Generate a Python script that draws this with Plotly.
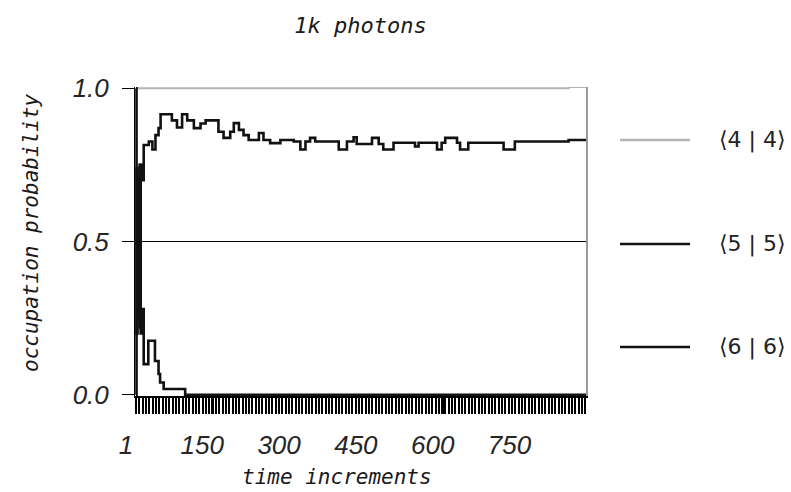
import plotly.graph_objects as go

# time axis of the simulation and its labelled ticks
tick_vals = [1, 150, 300, 450, 600, 750]
tick_text = ["1", "150", "300", "450", "600", "750"]
t_end = 880

# <5|5> occupation: step breakpoints (time, value held until next breakpoint)
t_55 = [1, 2, 4, 6, 8, 10, 12, 16, 26, 33, 39, 45, 49, 71, 81, 91, 101, 114,
        127, 137, 162, 172, 185, 192, 202, 211, 221, 241, 250, 263, 283, 309,
        322, 332, 341, 351, 397, 413, 426, 432, 462, 475, 484, 504, 546, 553,
        589, 598, 605, 628, 634, 650, 719, 741, 846, 880]
p_55 = [0.0, 0.74, 0.30, 0.70, 0.22, 0.75, 0.70, 0.815, 0.826, 0.80, 0.847,
        0.87, 0.915, 0.895, 0.872, 0.915, 0.895, 0.87, 0.885, 0.895, 0.858,
        0.838, 0.858, 0.886, 0.864, 0.847, 0.831, 0.854, 0.831, 0.821, 0.831,
        0.826, 0.80, 0.826, 0.838, 0.826, 0.80, 0.826, 0.84, 0.818, 0.838,
        0.818, 0.80, 0.822, 0.81, 0.822, 0.80, 0.822, 0.838, 0.822, 0.80,
        0.822, 0.80, 0.826, 0.831, 0.831]

# <6|6> occupation
t_66 = [1, 2, 4, 6, 8, 10, 12, 16, 25, 38, 45, 48, 55, 97, 880]
p_66 = [1.0, 0.20, 0.70, 0.25, 0.75, 0.20, 0.28, 0.10, 0.176, 0.11, 0.068,
        0.04, 0.019, 0.0, 0.0]

# <4|4> occupation (grey trace along the top)
t_44 = [1, 846, 880]
p_44 = [1.0, 1.004, 1.004]

y_ticks = [0.0, 0.5, 1.0]
y_text = ["0.0", "0.5", "1.0"]

legend_names = ["\u27e84 | 4\u27e9", "\u27e85 | 5\u27e9", "\u27e86 | 6\u27e9"]
legend_colors = ["#b4b4b4", "#111111", "#111111"]

fig = go.Figure()

fig.add_trace(go.Scatter(x=t_44, y=p_44, mode="lines", line_shape="hv",
                         line=dict(color=legend_colors[0], width=2.2),
                         name=legend_names[0], showlegend=False, cliponaxis=False))
fig.add_trace(go.Scatter(x=t_55, y=p_55, mode="lines", line_shape="hv",
                         line=dict(color=legend_colors[1], width=2.6),
                         name=legend_names[1], showlegend=False))
fig.add_trace(go.Scatter(x=t_66, y=p_66, mode="lines", line_shape="hv",
                         line=dict(color=legend_colors[2], width=2.6),
                         name=legend_names[2], showlegend=False))

# invisible trace on the secondary axis so the right frame and mid gridline render
fig.add_trace(go.Scatter(x=[t_end], y=[0.5], yaxis="y2", mode="markers",
                         marker=dict(opacity=0), showlegend=False, hoverinfo="skip"))

mono_italic = dict(family="DejaVu Sans Mono", size=21, color="#1a1a1a", style="italic")
tick_font = dict(family="Liberation Sans", size=26, color="#262626", style="italic")

fig.update_layout(
    width=791, height=492,
    margin=dict(l=135, r=205, t=87, b=96),
    paper_bgcolor="white", plot_bgcolor="white",
    xaxis=dict(range=[-1, t_end], tickmode="array", tickvals=tick_vals,
               ticktext=tick_text, ticks="outside", ticklen=16, tickwidth=2.2,
               tickcolor="black", showgrid=False, zeroline=False,
               showline=True, linecolor="black", linewidth=2,
               tickfont=tick_font, ticklabelshift=-10, ticklabelstandoff=9,
               minor=dict(tickmode="linear", tick0=1, dtick=6.5, ticks="outside",
                          ticklen=16, tickwidth=2.2, tickcolor="black",
                          showgrid=False)),
    yaxis=dict(range=[-0.004, 1.004], tickmode="array", tickvals=y_ticks,
               ticktext=y_text, ticks="outside", ticklen=12, tickwidth=1,
               tickcolor="black", showgrid=False, zeroline=False,
               showline=True, linecolor="black", linewidth=1,
               tickfont=tick_font, ticklabelstandoff=8),
    yaxis2=dict(range=[-0.004, 1.004], overlaying="y", side="right",
                tickmode="array", tickvals=[0.5], showticklabels=False,
                ticks="", showgrid=True, gridcolor="black", gridwidth=1.4,
                zeroline=False, showline=True, linecolor="#9a9a9a", linewidth=2),
    title=dict(text="1k photons", x=0.5, xref="paper", xanchor="center",
               y=1 - 25 / 492, yref="container", yanchor="middle",
               font=dict(family="DejaVu Sans Mono", size=22, color="#1a1a1a",
                         style="italic")),
    showlegend=False,
)

# axis titles
fig.add_annotation(text="time increments", xref="paper", yref="paper",
                   x=(337 - 135) / 451, y=(396 - 477) / 309, showarrow=False,
                   xanchor="center", yanchor="middle", font=mono_italic)
fig.add_annotation(text="occupation probability", xref="paper", yref="paper",
                   x=(31 - 135) / 451, y=(396 - 233) / 309, showarrow=False,
                   textangle=-90, xanchor="center", yanchor="middle", font=mono_italic)

# legend key at the right
legend_py = [140, 244, 347]
for name, color, py in zip(legend_names, legend_colors, legend_py):
    yp = (396 - py) / 309
    fig.add_shape(type="line", xref="paper", yref="paper",
                  x0=(620 - 135) / 451, x1=(690 - 135) / 451, y0=yp, y1=yp,
                  line=dict(color=color, width=2.4))
    fig.add_annotation(text=name, xref="paper", yref="paper",
                       x=(752 - 135) / 451, y=yp, showarrow=False,
                       xanchor="center", yanchor="middle",
                       font=dict(family="DejaVu Sans", size=22, color="#222222"))

fig.write_html("out.html")
